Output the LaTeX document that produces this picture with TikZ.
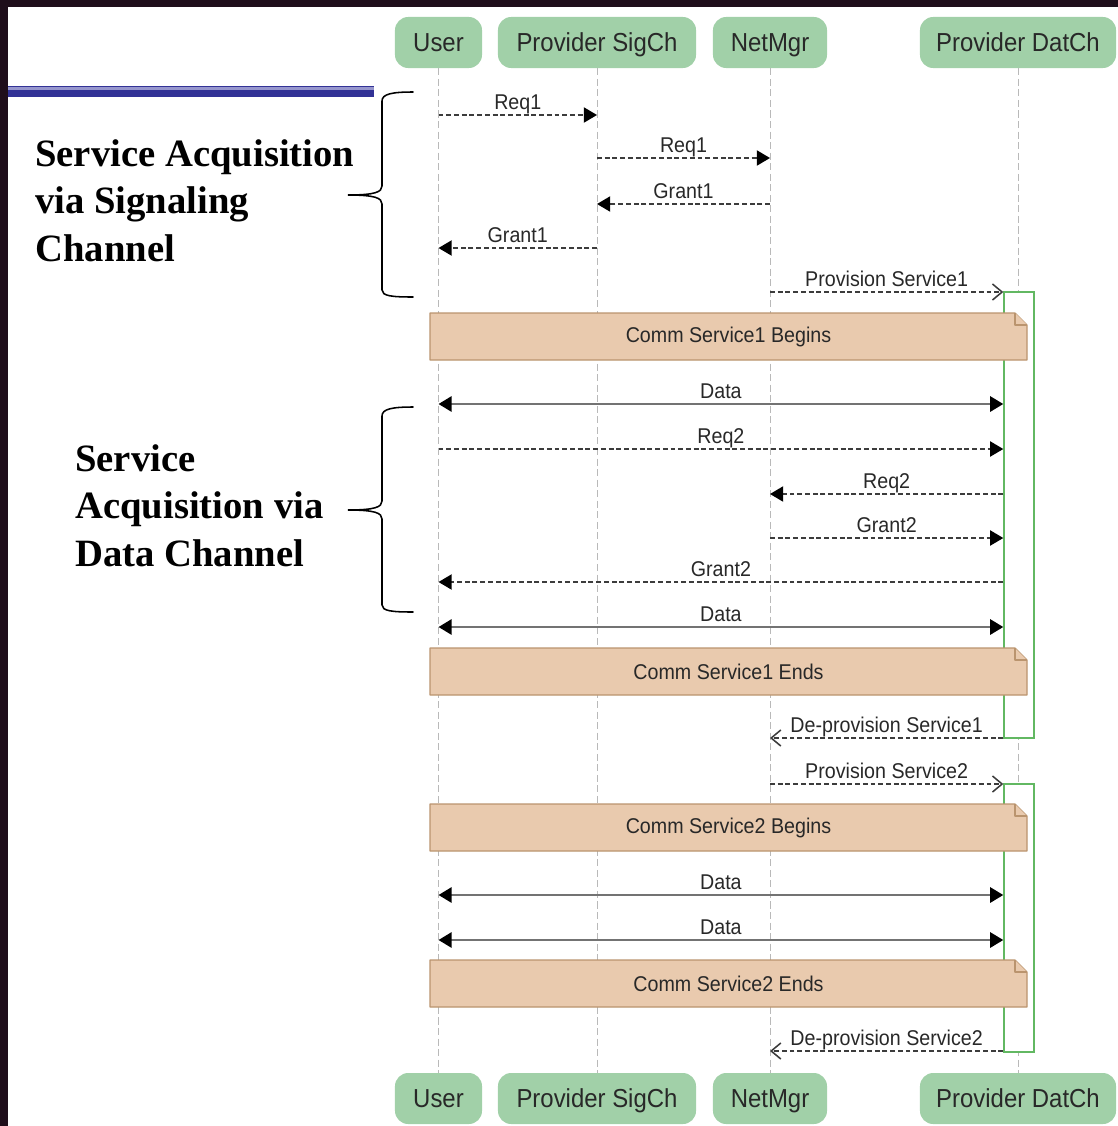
\documentclass[tikz,border=0pt]{standalone}
\usepackage{fontspec}
\usetikzlibrary{arrows.meta}
\newfontfamily\diafont{Liberation Sans}[FakeStretch=0.92]
\newfontfamily\titlefont{Liberation Serif}
\newcommand\headfont{\diafont\fontsize{18.5}{22}\selectfont}
\newcommand\lblfont{\diafont\fontsize{15.2}{18}\selectfont}
\definecolor{framecol}{RGB}{31,14,27}
\definecolor{headfill}{RGB}{161,208,168}
\definecolor{txtcol}{RGB}{40,40,40}
\definecolor{lifecol}{RGB}{185,185,185}
\definecolor{actcol}{RGB}{98,184,98}
\definecolor{notefill}{RGB}{233,202,174}
\definecolor{noteline}{RGB}{186,148,110}
\definecolor{bluedark}{RGB}{50,50,150}
\definecolor{bluelight}{RGB}{150,150,205}
\definecolor{msgcol}{RGB}{60,60,60}
\definecolor{datacol}{RGB}{115,115,115}
\tikzset{
	head/.style = {fill = headfill, rounded corners = 0.33cm, minimum height = 1.275cm, inner sep = 0pt,
		text height = 12.6pt, text depth = 0pt, text = txtcol, font = \headfont},
	life/.style = {draw = lifecol, line width = 0.7pt, dash pattern = on 5pt off 2.5pt},
	actbox/.style = {draw = actcol, fill = white, line width = 1pt, minimum width = 0.75cm, inner sep = 0pt},
	notebody/.style = {draw = noteline, fill = notefill, line width = 0.8pt, line join = round},
	note/.style = {minimum width = 14.925cm, minimum height = 1.175cm, inner sep = 0pt,
		text = txtcol, font = \lblfont},
	lbl/.style = {anchor = base, yshift = 4pt, inner sep = 0pt, text = txtcol, font = \lblfont},
	req/.style = {draw = msgcol, line width = 1.1pt, dash pattern = on 3.5pt off 2pt,
		-{Triangle[length = 0.33cm, width = 0.38cm, color = black]}},
	prov/.style = {draw = msgcol, line width = 1.1pt, dash pattern = on 3.5pt off 2pt,
		-{Straight Barb[length = 0.24cm, width = 0.4cm, color = msgcol]}},
	data/.style = {draw = datacol, line width = 1.8pt,
		{Triangle[length = 0.33cm, width = 0.38cm, color = black]}-{Triangle[length = 0.33cm, width = 0.38cm, color = black]}},
	title/.style = {align = left, inner sep = 0pt, font = \titlefont\bfseries\fontsize{27.5}{33.6}\selectfont},
	brace/.style = {draw = black, line width = 1.1pt, line cap = round}
}
\begin{document}
\begin{tikzpicture}[x = 0.025cm, y = -0.025cm]
	\useasboundingbox (0, 0) rectangle (1118, 1126);
	\fill[framecol] (0, 0) rectangle (1118, 7);
	\fill[framecol] (0, 0) rectangle (8, 1126);
	% blue rule
	\fill[bluedark] (8, 86) rectangle (374, 96.5);
	\fill[bluelight] (8, 87.3) rectangle (374, 90);
	% participants
	\node[head, minimum width = 2.175cm] (user) at (438.5, 42.5) {User};
	\node[head, minimum width = 4.95cm] (sigch) at (597, 42.5) {Provider SigCh};
	\node[head, minimum width = 2.85cm] (netmgr) at (770, 42.5) {NetMgr};
	\node[head, minimum width = 4.9cm] (datch) at (1018, 42.5) {Provider DatCh};
	\node[head, minimum width = 2.175cm] (userf) at (438.5, 1098.5) {User};
	\node[head, minimum width = 4.95cm] (sigchf) at (597, 1098.5) {Provider SigCh};
	\node[head, minimum width = 2.85cm] (netmgrf) at (770, 1098.5) {NetMgr};
	\node[head, minimum width = 4.9cm] (datchf) at (1018, 1098.5) {Provider DatCh};
	\draw[life] (user) -- (userf);
	\draw[life] (sigch) -- (sigchf);
	\draw[life] (netmgr) -- (netmgrf);
	\draw[life] (datch) -- (datchf);
	% activations
	\node[actbox, minimum height = 11.15cm] (act1) at (1019, 515) {};
	\node[actbox, minimum height = 6.7cm] (act2) at (1019, 918) {};
	% notes with folded corner
	\foreach \ny/\nname/\ntext in {313/begin1/Comm Service1 Begins, 648/end1/Comm Service1 Ends,
		804/begin2/Comm Service2 Begins, 960/end2/Comm Service2 Ends} {
		\draw[notebody] (430, \ny) -- (1015, \ny) -- (1027, \ny + 12) -- (1027, \ny + 47) -- (430, \ny + 47) -- cycle;
		\draw[notebody] (1015, \ny) -- (1015, \ny + 12) -- (1027, \ny + 12);
		\node[note] (\nname) at (728.5, \ny + 23.5) {\ntext};
	}
	% messages
	\draw[req] (user |- 0,115) -- node[lbl] {Req1} (sigch |- 0,115);
	\draw[req] (sigch |- 0,158) -- node[lbl] {Req1} (netmgr |- 0,158);
	\draw[req] (netmgr |- 0,204) -- node[lbl] {Grant1} (sigch |- 0,204);
	\draw[req] (sigch |- 0,248) -- node[lbl] {Grant1} (user |- 0,248);
	\draw[prov] (netmgr |- 0,292) -- node[lbl] {Provision Service1} (act1.west |- 0,292);
	\draw[data] (user |- 0,404) -- node[lbl] {Data} (act1.west |- 0,404);
	\draw[req] (user |- 0,449) -- node[lbl] {Req2} (act1.west |- 0,449);
	\draw[req] (act1.west |- 0,494) -- node[lbl] {Req2} (netmgr |- 0,494);
	\draw[req] (netmgr |- 0,538) -- node[lbl] {Grant2} (act1.west |- 0,538);
	\draw[req] (act1.west |- 0,582) -- node[lbl] {Grant2} (user |- 0,582);
	\draw[data] (user |- 0,627) -- node[lbl] {Data} (act1.west |- 0,627);
	\draw[prov] (act1.west |- 0,738) -- node[lbl] {De-provision Service1} (netmgr |- 0,738);
	\draw[prov] (netmgr |- 0,784) -- node[lbl] {Provision Service2} (act2.west |- 0,784);
	\draw[data] (user |- 0,895) -- node[lbl] {Data} (act2.west |- 0,895);
	\draw[data] (user |- 0,940) -- node[lbl] {Data} (act2.west |- 0,940);
	\draw[prov] (act2.west |- 0,1051) -- node[lbl] {De-provision Service2} (netmgr |- 0,1051);
	% phase labels
	\node[title, anchor = base west] (sigphase) at (35, 261) {Service Acquisition\\via Signaling\\Channel};
	\draw[brace] (413, 92) .. controls (392, 92) and (382, 94) .. (382, 101) -- (382, 186)
		.. controls (382, 192) and (375, 195) .. (348, 195)
		.. controls (375, 195) and (382, 198) .. (382, 204) -- (382, 290)
		.. controls (382, 296) and (392, 297) .. (413, 297);
	\node[title, anchor = base west] (datphase) at (75, 566) {Service\\Acquisition via\\Data Channel};
	\draw[brace] (413, 407) .. controls (392, 407) and (382, 409) .. (382, 416) -- (382, 501)
		.. controls (382, 507) and (375, 510) .. (348, 510)
		.. controls (375, 510) and (382, 513) .. (382, 519) -- (382, 605)
		.. controls (382, 611) and (392, 612) .. (413, 612);
\end{tikzpicture}
\end{document}
